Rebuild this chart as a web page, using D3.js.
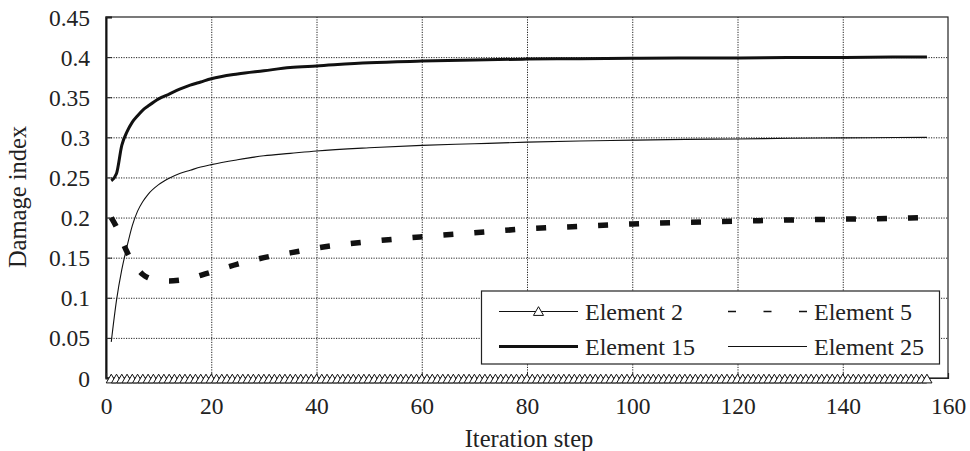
<!DOCTYPE html>
<html>
<head>
<meta charset="utf-8">
<script src="https://cdn.jsdelivr.net/npm/d3@7"></script>
<style>
  body { margin: 0; background: #fff; }
  svg { display: block; }
</style>
</head>
<body>
<script>
// ---- data ----
const xTicks = [0, 20, 40, 60, 80, 100, 120, 140, 160]
const xTickLabels = ["0", "20", "40", "60", "80", "100", "120", "140", "160"]
const yTicks = [0, 0.05, 0.1, 0.15, 0.2, 0.25, 0.3, 0.35, 0.4, 0.45]
const yTickLabels = ["0", "0.05", "0.1", "0.15", "0.2", "0.25", "0.3", "0.35", "0.4", "0.45"]

// every iteration step (Element 2 has a marker on each one)
const allSteps = [
  1, 2, 3, 4, 5, 6, 7, 8, 9, 10, 11, 12, 13, 14, 15, 16, 17, 18, 19, 20, 21, 22, 23, 24, 25, 26,
  27, 28, 29, 30, 31, 32, 33, 34, 35, 36, 37, 38, 39, 40, 41, 42, 43, 44, 45, 46, 47, 48, 49, 50, 51, 52,
  53, 54, 55, 56, 57, 58, 59, 60, 61, 62, 63, 64, 65, 66, 67, 68, 69, 70, 71, 72, 73, 74, 75, 76, 77, 78,
  79, 80, 81, 82, 83, 84, 85, 86, 87, 88, 89, 90, 91, 92, 93, 94, 95, 96, 97, 98, 99, 100, 101, 102, 103, 104,
  105, 106, 107, 108, 109, 110, 111, 112, 113, 114, 115, 116, 117, 118, 119, 120, 121, 122, 123, 124, 125, 126, 127, 128, 129, 130,
  131, 132, 133, 134, 135, 136, 137, 138, 139, 140, 141, 142, 143, 144, 145, 146, 147, 148, 149, 150, 151, 152, 153, 154, 155, 156
]
const element2 = [
  0, 0, 0, 0, 0, 0, 0, 0, 0, 0, 0, 0, 0, 0, 0, 0, 0, 0, 0, 0, 0, 0, 0, 0, 0, 0,
  0, 0, 0, 0, 0, 0, 0, 0, 0, 0, 0, 0, 0, 0, 0, 0, 0, 0, 0, 0, 0, 0, 0, 0, 0, 0,
  0, 0, 0, 0, 0, 0, 0, 0, 0, 0, 0, 0, 0, 0, 0, 0, 0, 0, 0, 0, 0, 0, 0, 0, 0, 0,
  0, 0, 0, 0, 0, 0, 0, 0, 0, 0, 0, 0, 0, 0, 0, 0, 0, 0, 0, 0, 0, 0, 0, 0, 0, 0,
  0, 0, 0, 0, 0, 0, 0, 0, 0, 0, 0, 0, 0, 0, 0, 0, 0, 0, 0, 0, 0, 0, 0, 0, 0, 0,
  0, 0, 0, 0, 0, 0, 0, 0, 0, 0, 0, 0, 0, 0, 0, 0, 0, 0, 0, 0, 0, 0, 0, 0, 0, 0
]

// sampled steps for the smooth curves
const steps = [1, 2, 3, 4, 5, 6, 7, 8, 10, 12, 14, 16, 18, 20, 25, 30, 35, 40, 50, 60, 70, 80, 90, 100, 110, 120, 130, 140, 150, 156]
const element5 = [0.200, 0.188, 0.172, 0.157, 0.145, 0.136, 0.129, 0.125, 0.122, 0.121, 0.122, 0.124, 0.128, 0.132, 0.142, 0.150, 0.156, 0.162, 0.170, 0.176, 0.181, 0.186, 0.189, 0.192, 0.194, 0.1955, 0.197, 0.198, 0.199, 0.200]
const element15 = [0.246, 0.255, 0.290, 0.307, 0.319, 0.327, 0.334, 0.339, 0.348, 0.354, 0.360, 0.365, 0.369, 0.373, 0.379, 0.383, 0.387, 0.389, 0.393, 0.395, 0.3965, 0.3975, 0.398, 0.3985, 0.399, 0.399, 0.3995, 0.3995, 0.400, 0.400]
const element25 = [0.045, 0.097, 0.135, 0.164, 0.190, 0.208, 0.220, 0.229, 0.241, 0.249, 0.255, 0.259, 0.263, 0.266, 0.272, 0.277, 0.280, 0.283, 0.287, 0.290, 0.292, 0.294, 0.2955, 0.2965, 0.2975, 0.298, 0.2988, 0.2993, 0.2997, 0.300]

const legendNames = ["Element 2", "Element 5", "Element 15", "Element 25"]

const FONT = "Liberation Serif"

// ---- layout ----
const W = 970, H = 451
const margin = { top: 17, right: 22, bottom: 73, left: 106 }
const width = W - margin.left - margin.right
const height = H - margin.top - margin.bottom

const svg = d3.select("body").append("svg").attr("width", W).attr("height", H)
const g = svg.append("g").attr("transform", "translate(" + margin.left + "," + margin.top + ")")

const x = d3.scaleLinear().domain([0, 160]).range([0, width])
const y = d3.scaleLinear().domain([0, 0.45]).range([height, 0])

// dotted grid
g.append("g")
  .attr("class", "grid")
  .call(d3.axisLeft(y).tickValues(yTicks.slice(1, -1)).tickSize(-width).tickFormat(""))
  .call(s => s.select(".domain").remove())
g.append("g")
  .attr("class", "grid")
  .attr("transform", "translate(0," + height + ")")
  .call(d3.axisBottom(x).tickValues(xTicks.slice(1, -1)).tickSize(-height).tickFormat(""))
  .call(s => s.select(".domain").remove())
g.selectAll(".grid line")
  .attr("stroke", "#333")
  .attr("stroke-width", 1)
  .attr("stroke-dasharray", "1.2,1.3")

// frame (top / right / bottom)
g.append("rect")
  .attr("width", width).attr("height", height)
  .attr("fill", "none").attr("stroke", "#222").attr("stroke-width", 1.2)

// axes with short inner ticks
const yAxis = g.append("g")
  .call(d3.axisLeft(y).tickValues(yTicks).tickSize(-6).tickPadding(16)
    .tickFormat((d, i) => yTickLabels[i]))
const xAxis = g.append("g")
  .attr("transform", "translate(0," + height + ")")
  .call(d3.axisBottom(x).tickValues(xTicks).tickSize(-5).tickPadding(19)
    .tickFormat((d, i) => xTickLabels[i]))
yAxis.select(".domain").attr("stroke", "#111").attr("stroke-width", 2)
xAxis.select(".domain").attr("stroke", "#222").attr("stroke-width", 1.2)
g.selectAll(".tick line").attr("stroke", "#222")
g.selectAll(".tick text")
  .style("font-family", FONT)
  .style("font-size", "23.5px")
  .attr("fill", "#222")
yAxis.selectAll(".tick text").attr("dy", "0.34em")

// series
const line = d3.line()
  .x((d, i) => x(steps[i]))
  .y(d => y(d))
  .curve(d3.curveMonotoneX)

g.append("path").datum(element25)
  .attr("d", line).attr("fill", "none")
  .attr("stroke", "#111").attr("stroke-width", 1.1)

g.append("path").datum(element15)
  .attr("d", line).attr("fill", "none")
  .attr("stroke", "#111").attr("stroke-width", 3)

g.append("path").datum(element5)
  .attr("d", line).attr("fill", "none")
  .attr("stroke", "#111").attr("stroke-width", 5.5)
  .attr("stroke-dasharray", "10,21")

const tri = d3.symbol().type(d3.symbolTriangle).size(44)
g.append("g").selectAll("path")
  .data(element2)
  .join("path")
  .attr("d", tri)
  .attr("transform", (d, i) => "translate(" + x(allSteps[i]) + "," + (y(d) + 2) + ")")
  .attr("fill", "#fff").attr("stroke", "#111").attr("stroke-width", 1)

// axis titles
svg.append("text")
  .attr("x", margin.left + width / 2 + 2).attr("y", 446.5)
  .attr("text-anchor", "middle")
  .style("font-family", FONT).style("font-size", "24.5px").attr("fill", "#222")
  .text("Iteration step")
svg.append("text")
  .attr("transform", "translate(26,197) rotate(-90)")
  .attr("text-anchor", "middle")
  .style("font-family", FONT).style("font-size", "24.5px").attr("fill", "#222")
  .text("Damage index")

// legend
const legend = svg.append("g")
legend.append("rect")
  .attr("x", 481.5).attr("y", 291).attr("width", 458).attr("height", 73)
  .attr("fill", "#fff").attr("stroke", "#222").attr("stroke-width", 1.2)

const cols = [499, 728]
const rows = [311.5, 346.5]
legendNames.forEach((name, i) => {
  const lx = cols[i % 2], ly = rows[Math.floor(i / 2)]
  const sample = legend.append("line")
    .attr("x1", lx).attr("x2", lx + 79).attr("y1", ly).attr("y2", ly)
    .attr("stroke", "#111")
  if (i === 0) {
    sample.attr("stroke-width", 1)
    legend.append("path").attr("d", tri)
      .attr("transform", "translate(" + (lx + 39.5) + "," + (ly + 1) + ")")
      .attr("fill", "#fff").attr("stroke", "#111")
  } else if (i === 1) {
    sample.attr("stroke-width", 1.3).attr("stroke-dasharray", "8,27.5")
  } else if (i === 2) {
    sample.attr("stroke-width", 3)
  } else {
    sample.attr("stroke-width", 1.1)
  }
  legend.append("text")
    .attr("x", lx + 86).attr("y", ly + 8)
    .style("font-family", FONT).style("font-size", "24px").attr("fill", "#222")
    .text(name)
})
</script>
</body>
</html>
